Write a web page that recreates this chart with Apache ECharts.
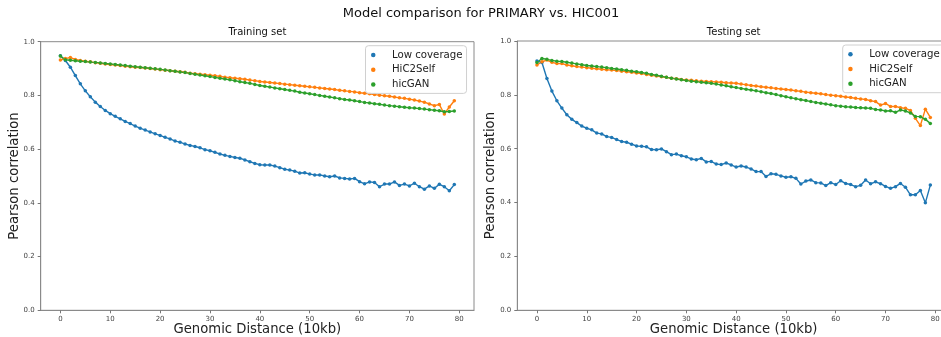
<!DOCTYPE html>
<html><head><meta charset="utf-8">
<script src="https://cdn.jsdelivr.net/npm/echarts@6/dist/echarts.min.js"></script>
<style>html,body{margin:0;padding:0;background:#fff}#c{width:941px;height:337px}</style>
</head><body><div id="c"></div>
<script>
const distance = [0,1,2,3,4,5,6,7,8,9,10,11,12,13,14,15,16,17,18,19,20,21,22,23,24,25,26,27,28,29,30,31,32,33,34,35,36,37,38,39,40,41,42,43,44,45,46,47,48,49,50,51,52,53,54,55,56,57,58,59,60,61,62,63,64,65,66,67,68,69,70,71,72,73,74,75,76,77,78,79];
const xTicks = [0,10,20,30,40,50,60,70,80];
const yTicks = [0,0.2,0.4,0.6,0.8,1.0];
const seriesNames = ['Low coverage','HiC2Self','hicGAN'];
const panelTitles = ['Training set','Testing set'];
const mainTitle = 'Model comparison for PRIMARY vs. HIC001';

const trainLow = [0.948,0.930,0.905,0.874,0.843,0.817,0.795,0.775,0.759,0.744,0.732,0.722,0.713,0.703,0.695,0.686,0.678,0.671,0.664,0.657,0.651,0.644,0.638,0.630,0.626,0.619,0.614,0.610,0.605,0.598,0.594,0.588,0.582,0.577,0.573,0.569,0.566,0.560,0.553,0.547,0.542,0.541,0.541,0.537,0.531,0.525,0.522,0.518,0.511,0.512,0.507,0.504,0.504,0.500,0.497,0.500,0.493,0.491,0.489,0.491,0.479,0.471,0.478,0.476,0.460,0.470,0.470,0.478,0.465,0.470,0.463,0.473,0.460,0.451,0.463,0.454,0.469,0.460,0.445,0.468];
const trainSelf = [0.932,0.937,0.941,0.934,0.930,0.927,0.925,0.922,0.920,0.917,0.915,0.913,0.911,0.909,0.907,0.905,0.904,0.902,0.900,0.898,0.896,0.894,0.892,0.890,0.888,0.886,0.883,0.881,0.879,0.877,0.875,0.873,0.871,0.868,0.866,0.864,0.862,0.860,0.857,0.855,0.852,0.850,0.848,0.846,0.844,0.842,0.840,0.838,0.836,0.834,0.832,0.830,0.828,0.826,0.824,0.822,0.819,0.817,0.815,0.813,0.810,0.808,0.806,0.803,0.801,0.799,0.797,0.794,0.791,0.789,0.786,0.783,0.779,0.775,0.768,0.762,0.766,0.731,0.757,0.780];
const trainGan = [0.947,0.933,0.931,0.929,0.927,0.926,0.924,0.923,0.921,0.919,0.917,0.915,0.913,0.911,0.909,0.907,0.905,0.903,0.901,0.899,0.897,0.895,0.892,0.890,0.887,0.885,0.882,0.879,0.876,0.873,0.870,0.867,0.864,0.861,0.858,0.855,0.851,0.848,0.845,0.841,0.837,0.834,0.831,0.828,0.825,0.822,0.819,0.816,0.812,0.809,0.806,0.803,0.800,0.797,0.794,0.791,0.788,0.785,0.783,0.780,0.777,0.774,0.772,0.769,0.767,0.764,0.762,0.760,0.758,0.756,0.754,0.753,0.751,0.749,0.747,0.745,0.743,0.739,0.740,0.742];

const testLow = [0.926,0.920,0.861,0.814,0.778,0.751,0.726,0.709,0.697,0.684,0.676,0.670,0.658,0.655,0.645,0.642,0.634,0.627,0.624,0.617,0.610,0.609,0.607,0.597,0.596,0.599,0.589,0.578,0.580,0.574,0.570,0.562,0.559,0.564,0.551,0.553,0.543,0.541,0.547,0.540,0.532,0.536,0.532,0.525,0.515,0.515,0.497,0.507,0.505,0.499,0.494,0.496,0.490,0.469,0.480,0.484,0.474,0.473,0.463,0.474,0.467,0.481,0.471,0.467,0.459,0.464,0.484,0.470,0.477,0.470,0.460,0.453,0.459,0.471,0.457,0.429,0.429,0.445,0.399,0.465];
const testSelf = [0.911,0.923,0.929,0.921,0.916,0.916,0.911,0.908,0.905,0.903,0.901,0.899,0.897,0.895,0.893,0.892,0.890,0.888,0.886,0.884,0.881,0.879,0.876,0.873,0.870,0.867,0.865,0.862,0.860,0.857,0.855,0.854,0.852,0.851,0.850,0.849,0.848,0.847,0.845,0.844,0.843,0.840,0.838,0.835,0.833,0.830,0.828,0.826,0.824,0.822,0.820,0.818,0.815,0.813,0.810,0.808,0.806,0.804,0.801,0.799,0.797,0.795,0.792,0.790,0.787,0.785,0.783,0.778,0.775,0.762,0.768,0.757,0.757,0.752,0.750,0.742,0.713,0.686,0.747,0.716];
const testGan = [0.920,0.935,0.932,0.928,0.925,0.924,0.921,0.918,0.915,0.912,0.909,0.907,0.905,0.903,0.901,0.898,0.896,0.893,0.891,0.888,0.886,0.883,0.880,0.876,0.873,0.869,0.865,0.862,0.859,0.856,0.853,0.851,0.849,0.847,0.845,0.843,0.840,0.837,0.834,0.830,0.827,0.824,0.821,0.818,0.815,0.812,0.808,0.805,0.801,0.797,0.793,0.789,0.786,0.782,0.779,0.775,0.772,0.769,0.766,0.763,0.760,0.758,0.756,0.755,0.753,0.752,0.751,0.750,0.746,0.744,0.740,0.741,0.735,0.744,0.740,0.733,0.720,0.719,0.709,0.694];

const colors = ['#1f77b4','#ff7f0e','#2ca02c'];
const FONT = 'DejaVu Sans';
const panels = [
  {title: panelTitles[0], data: [trainLow, trainSelf, trainGan], grid: {left: 40.7, top: 41.7, width: 433.3, height: 268.6}, legend: {left: 365.5, top: 45.7}},
  {title: panelTitles[1], data: [testLow, testSelf, testGan], grid: {left: 517.3, top: 41, width: 432.7, height: 269.3}, legend: {left: 842.7, top: 45}}
];

const chart = echarts.init(document.getElementById('c'), null, {renderer: 'canvas'});
const option = {
  animation: false,
  backgroundColor: '#fff',
  color: colors,
  title: [{text: mainTitle, left: 481, top: 7.5, textAlign: 'center', padding: 0,
           textStyle: {fontFamily: FONT, fontSize: 13, fontWeight: 'normal', color: '#111'}}],
  grid: [], xAxis: [], yAxis: [], legend: [], series: []
};
panels.forEach((p, gi) => {
  const g = p.grid;
  option.grid.push(Object.assign({show: true, borderColor: '#8a8a8a', borderWidth: 1, backgroundColor: 'transparent',
    containLabel: false, outerBoundsMode: 'none'}, g));
  option.title.push({text: p.title, left: g.left + g.width / 2, top: 27.5, textAlign: 'center', padding: 0,
    textStyle: {fontFamily: FONT, fontSize: 10, fontWeight: 'normal', color: '#111'}});
  option.xAxis.push({type: 'value', gridIndex: gi, min: -3.95, max: 82.95,
    name: 'Genomic Distance (10kb)', nameLocation: 'middle', nameGap: 13, nameMoveOverlap: false,
    nameTextStyle: {fontFamily: FONT, fontSize: 13.2, color: '#222'},
    axisLine: {show: true, onZero: false, lineStyle: {color: '#8a8a8a', width: 1}},
    axisTick: {show: true, length: 3, lineStyle: {color: '#777'}, customValues: xTicks},
    axisLabel: {fontFamily: FONT, fontSize: 7, color: '#444', margin: 5, customValues: xTicks},
    splitLine: {show: false}});
  option.yAxis.push({type: 'value', gridIndex: gi, min: 0, max: 1,
    name: 'Pearson correlation', nameLocation: 'middle', nameGap: 20, nameMoveOverlap: false,
    nameTextStyle: {fontFamily: FONT, fontSize: 13.2, color: '#222'},
    axisLine: {show: true, onZero: false, lineStyle: {color: '#8a8a8a', width: 1}},
    axisTick: {show: true, length: 3, lineStyle: {color: '#777'}, customValues: yTicks},
    axisLabel: {fontFamily: FONT, fontSize: 7, color: '#444', margin: 6, customValues: yTicks,
      formatter: v => Number(v).toFixed(1)},
    splitLine: {show: false}});
  option.legend.push({data: seriesNames, orient: 'vertical', left: p.legend.left, top: p.legend.top,
    icon: 'circle', itemWidth: 14, itemHeight: 4.5, itemGap: 1.7, padding: [2.8, 4, 2.5, 5.5],
    borderColor: '#d0d0d0', borderWidth: 1, borderRadius: 3, backgroundColor: 'rgba(255,255,255,0.85)',
    selectedMode: false,
    formatter: name => '{n|' + name + '}',
    textStyle: {fontFamily: FONT, fontSize: 10.2, color: '#222', lineHeight: 13,
      rich: {n: {fontFamily: FONT, fontSize: 10.2, color: '#222', lineHeight: 13, padding: [0, 0, 0, 6.7]}}}});
  p.data.forEach((vals, si) => {
    option.series.push({name: seriesNames[si], type: 'line', xAxisIndex: gi, yAxisIndex: gi,
      data: distance.map((d, k) => [d, vals[k]]),
      symbol: 'circle', symbolSize: 3.5, showSymbol: true,
      lineStyle: {width: 1.4, color: colors[si]}, itemStyle: {color: colors[si]},
      emphasis: {disabled: true}});
  });
});
chart.setOption(option);
</script>
</body></html>
